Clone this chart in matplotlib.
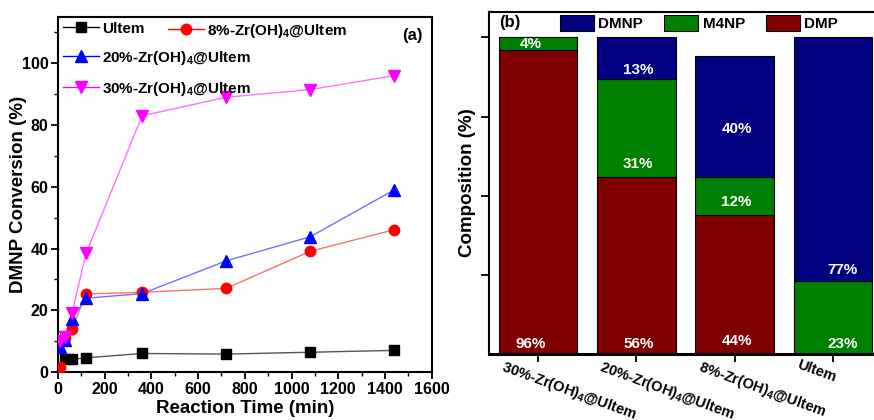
import matplotlib
matplotlib.use("Agg")
import matplotlib.pyplot as plt
import matplotlib.transforms as mtransforms
from matplotlib.lines import Line2D

FAM = ['Liberation Sans', 'DejaVu Sans']
plt.rcParams['font.family'] = FAM
plt.rcParams['font.weight'] = 'bold'
plt.rcParams['mathtext.fontset'] = 'custom'
plt.rcParams['mathtext.rm'] = 'Liberation Sans:bold'
plt.rcParams['mathtext.bf'] = 'Liberation Sans:bold'
plt.rcParams['mathtext.default'] = 'bf'

# ---------------- data (a) ----------------
t_ultem = [30, 60, 120, 360, 720, 1080, 1440]
conv_ultem = [4.1, 4.1, 4.6, 6.0, 5.8, 6.4, 7.0]
t_zr = [10, 30, 60, 120, 360, 720, 1080, 1440]
conv_8 = [1.5, 11.0, 13.9, 25.3, 25.8, 27.1, 39.1, 46.1]
conv_20 = [8.2, 10.4, 17.2, 23.9, 25.4, 36.0, 43.8, 59.0]
conv_30 = [10.2, 11.3, 19.1, 38.4, 83.0, 89.0, 91.5, 96.0]
err_ultem = [0.8, 0.8, 0.8, 0.8, 0.8, 0.8, 0.8]
err_zr = [1.5, 1.5, 1.5, 1.5, 1.5, 1.5, 1.5, 1.5]

series_labels = ['Ultem', '8%-Zr(OH)$_4$@Ultem', '20%-Zr(OH)$_4$@Ultem', '30%-Zr(OH)$_4$@Ultem']

# ---------------- data (b) ----------------
samples = ['30%-Zr(OH)$_4$@Ultem', '20%-Zr(OH)$_4$@Ultem', '8%-Zr(OH)$_4$@Ultem', 'Ultem']
dmp = [96, 56, 44, 0]
m4np = [4, 31, 12, 23]
dmnp = [0, 13, 38, 77]
dmp_txt = ['96%', '56%', '44%', '']
m4np_txt = ['4%', '31%', '12%', '23%']
dmnp_txt = ['', '13%', '40%', '77%']

W, H = 874, 420
fig = plt.figure(figsize=(W / 100, H / 100), dpi=100)

# ---------------- panel (a) ----------------
ax = fig.add_axes([58 / W, (H - 372) / H, (431.6 - 58) / W, (372 - 17) / H])
styles = [
    (t_ultem, conv_ultem, err_ultem, 's', 'black', '#555555', 6.5),
    (t_zr, conv_8, err_zr, 'o', 'red', '#ff7070', 7.5),
    (t_zr, conv_20, err_zr, '^', 'blue', '#7070ff', 8),
    (t_zr, conv_30, err_zr, 'v', 'magenta', '#ff70ff', 8),
]
handles = []
for (x, y, e, m, c, lc, ms), lab in zip(styles, series_labels):
    ax.plot(x, y, '-', color=lc, lw=1.0, zorder=2)
    ax.errorbar(x, y, yerr=e, fmt='none', ecolor=c, elinewidth=1.0, capsize=0, zorder=3)
    ax.plot(x, y, m, color=c, ms=ms, mec=c, zorder=4, linestyle='none')
    handles.append(Line2D([], [], color=c, lw=1.0, marker=m, ms=ms, mec=c, label=lab))

ax.set_xlim(0, 1600)
ax.set_ylim(0, 115)
ax.set_xticks(range(0, 1601, 200))
ax.set_xticks(range(100, 1600, 200), minor=True)
ax.set_yticks(range(0, 101, 20))
ax.set_yticks(range(10, 111, 20), minor=True)
ax.tick_params(which='major', direction='out', length=5, width=1.3, labelsize=11.5, pad=2,
               top=False, right=False)
ax.tick_params(which='minor', direction='out', length=3, width=1.0, top=False, right=False)
for lab in ax.get_xticklabels() + ax.get_yticklabels():
    lab.set_fontweight('bold')
for s in ax.spines.values():
    s.set_linewidth(1.5)
ax.set_xlabel('Reaction Time (min)', fontsize=13.5, fontweight='bold')
ax.set_ylabel('DMNP Conversion (%)', fontsize=13.5, fontweight='bold')
ax.xaxis.set_label_coords(0.5, -0.08)
ax.yaxis.set_label_coords(-0.083, 0.5)

legA = ax.legend(handles=[handles[0], handles[2], handles[3]], loc='upper left',
                 bbox_to_anchor=(0.0, 1.0), frameon=False, fontsize=11,
                 handlelength=2.4, handletextpad=0.2, labelspacing=0.85,
                 borderpad=0.3, borderaxespad=0.0)
ax.add_artist(legA)
ax.legend(handles=[handles[1]], loc='upper left', bbox_to_anchor=((163 - 58) / 373.6, 1.0),
          frameon=False, fontsize=11, handlelength=2.4, handletextpad=0.2,
          borderpad=0.3, borderaxespad=0.0)
ax.text(0.977, 0.949, '(a)', transform=ax.transAxes, ha='right', va='center',
        fontsize=12, fontweight='bold')

# ---------------- panel (b) ----------------
bx = fig.add_axes([489 / W, (H - 354) / H, 393.2 / W, (354 - 12) / H])
pos = list(range(len(samples)))
c_dmp, c_m4np, c_dmnp = '#800000', '#008000', '#000080'
bottom2 = [a + b for a, b in zip(dmp, m4np)]
b1 = bx.bar(pos, dmp, width=0.8, color=c_dmp, edgecolor='black', lw=0.8, label='DMP')
b2 = bx.bar(pos, m4np, width=0.8, bottom=dmp, color=c_m4np, edgecolor='black', lw=0.8, label='M4NP')
b3 = bx.bar(pos, dmnp, width=0.8, bottom=bottom2, color=c_dmnp, edgecolor='black', lw=0.8, label='DMNP')

tk = dict(ha='center', va='center', color='white', fontsize=11, fontweight='bold')
for i in pos:
    dx = -0.08 if i == 0 else (0.1 if dmp[i] == 0 else 0.02)
    if dmp_txt[i]:
        bx.text(i + dx, 3.0 if dmp[i] > 50 else 4.0, dmp_txt[i], **tk)
    if m4np_txt[i]:
        y = 3.0 if dmp[i] == 0 else dmp[i] + min(m4np[i] / 2, 4.0)
        bx.text(i + dx, y, m4np_txt[i], **tk)
    if dmnp_txt[i]:
        if dmp[i] == 0:
            y = bottom2[i] + 3.5
        elif dmnp[i] > 30:
            y = bottom2[i] + dmnp[i] * 0.4
        else:
            y = bottom2[i] + dmnp[i] * 0.2
        bx.text(i + dx, y, dmnp_txt[i], **tk)

bx.set_xlim(-0.5, 3.5)
bx.set_ylim(0, 108)
bx.set_yticks([25, 50, 75, 100])
bx.set_yticklabels([])
bx.set_xticks(pos)
bx.set_xticklabels([])
lab_tr = mtransforms.blended_transform_factory(bx.transData, bx.transAxes) + \
    mtransforms.ScaledTranslation(-33 / 100, 0, fig.dpi_scale_trans)
for i, s in zip(pos, samples):
    bx.text(i, -0.012, s, transform=lab_tr, rotation=-20, rotation_mode='anchor',
            ha='left', va='top', fontsize=10.5, fontweight='bold', clip_on=False)
bx.tick_params(axis='both', direction='out', length=6, width=1.3, right=False, top=False)
bx.spines['bottom'].set_linewidth(2.2)
bx.spines['left'].set_linewidth(1.5)
bx.spines['top'].set_linewidth(1.5)
bx.spines['right'].set_linewidth(1.5)
bx.set_ylabel('Composition (%)', fontsize=13.5, fontweight='bold')
bx.yaxis.set_label_coords(-0.033, 0.5)
bx.legend(handles=[b3, b2, b1], loc='upper left', bbox_to_anchor=((557 - 489) / 393.2, 1.0),
          ncol=3, frameon=False, fontsize=11, handlelength=2.2, handleheight=1.2,
          handletextpad=0.3, columnspacing=1.4, borderpad=0.2, borderaxespad=0.0)
bx.text(0.025, 0.968, '(b)', transform=bx.transAxes, ha='left', va='center',
        fontsize=12, fontweight='bold')

fig.savefig('out.png', dpi=100)
